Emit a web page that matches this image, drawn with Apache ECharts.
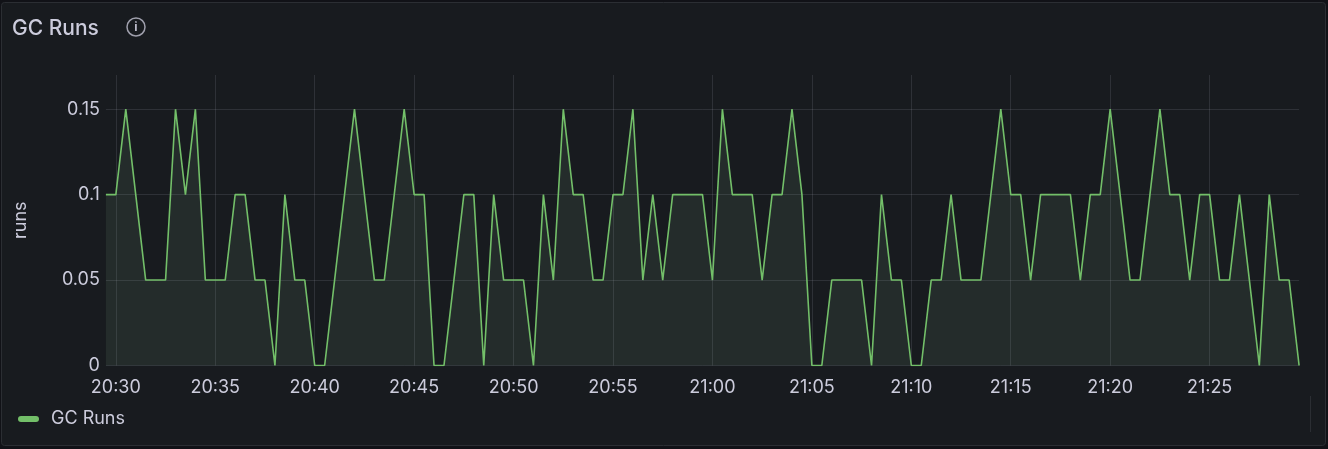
<!DOCTYPE html>
<html>
<head>
<meta charset="utf-8">
<style>
html,body{margin:0;padding:0;background:#111217;width:1328px;height:449px;overflow:hidden}
#c{position:absolute;left:0;top:0;width:1328px;height:449px}
</style>
<script src="https://cdn.jsdelivr.net/npm/echarts@6/dist/echarts.min.js"></script>
</head>
<body>
<div id="c"></div>
<script>
const seriesName = "GC Runs";
const yAxisName = "runs";
const startHour = 20, startMinute = 29, startSecond = 30, stepSeconds = 30;
const tickLabels = ["20:30","20:35","20:40","20:45","20:50","20:55","21:00","21:05","21:10","21:15","21:20","21:25"];
const gcRuns = [
  0.1,0.1,0.15,0.1,0.05,0.05,0.05,0.15,0.1,0.15,
  0.05,0.05,0.05,0.1,0.1,0.05,0.05,0,0.1,0.05,
  0.05,0,0,0.05,0.1,0.15,0.1,0.05,0.05,0.1,
  0.15,0.1,0.1,0,0,0.05,0.1,0.1,0,0.1,
  0.05,0.05,0.05,0,0.1,0.05,0.15,0.1,0.1,0.05,
  0.05,0.1,0.1,0.15,0.05,0.1,0.05,0.1,0.1,0.1,
  0.1,0.05,0.15,0.1,0.1,0.1,0.05,0.1,0.1,0.15,
  0.1,0,0,0.05,0.05,0.05,0.05,0,0.1,0.05,
  0.05,0,0,0.05,0.05,0.1,0.05,0.05,0.05,0.1,
  0.15,0.1,0.1,0.05,0.1,0.1,0.1,0.1,0.05,0.1,
  0.1,0.15,0.1,0.05,0.05,0.1,0.15,0.1,0.1,0.05,
  0.1,0.1,0.05,0.05,0.1,0.05,0,0.1,0.05,0.05,
  0
];
const categories = gcRuns.map((_, i) => {
  const s = startHour * 3600 + startMinute * 60 + startSecond + i * stepSeconds;
  const h = Math.floor(s / 3600), m = Math.floor(s / 60) % 60, sec = s % 60;
  return String(h).padStart(2, "0") + ":" + String(m).padStart(2, "0") + (sec ? ":" + sec : "");
});
const isTick = (idx, val) => tickLabels.includes(val);

const FONT = "Inter";
const TEXT = "#ccccdc";
const chart = echarts.init(document.getElementById("c"), null, {renderer: "canvas"});
chart.setOption({
  animation: false,
  backgroundColor: "transparent",
  title: {
    text: "GC Runs", left: 12, top: 18, padding: 0,
    textStyle: {color: TEXT, fontFamily: FONT, fontSize: 21, fontWeight: 500}
  },
  grid: {left: 105.9, right: 28.9, top: 75, bottom: 83.5, containLabel: false},
  legend: {
    left: 18, top: 410, padding: 0, itemWidth: 21, itemHeight: 6, itemGap: 8,
    icon: "path://M3,0H18A3,3 0 0 1 18,6H3A3,3 0 0 1 3,0Z",
    data: [seriesName],
    textStyle: {color: TEXT, fontFamily: FONT, fontSize: 18, padding: [0, 0, 0, 7]}
  },
  xAxis: {
    type: "category", data: categories, boundaryGap: false,
    axisLine: {show: false}, axisTick: {show: false},
    axisLabel: {color: TEXT, fontFamily: FONT, fontSize: 18, margin: 13, interval: isTick, hideOverlap: false},
    splitLine: {show: true, interval: isTick, lineStyle: {color: "rgba(204,204,220,0.13)", width: 1}}
  },
  yAxis: {
    type: "value", min: 0, max: 0.17, interval: 0.05,
    name: yAxisName, nameLocation: "middle", nameGap: 76, nameRotate: 90,
    nameTextStyle: {color: TEXT, fontFamily: FONT, fontSize: 18},
    axisLine: {show: false}, axisTick: {show: false},
    axisLabel: {color: TEXT, fontFamily: FONT, fontSize: 18, margin: 6, showMaxLabel: false,
      formatter: v => String(+v.toFixed(2))},
    splitLine: {show: true, showMaxLine: false, lineStyle: {color: "rgba(204,204,220,0.13)", width: 1}}
  },
  graphic: [
    {type: "rect", z: -10, silent: true, shape: {x: 1.5, y: 2.5, width: 1324, height: 443, r: 3},
      style: {fill: "#181b1f", stroke: "#2b2e33", lineWidth: 1}},
    {type: "circle", shape: {cx: 136, cy: 27, r: 9}, style: {fill: "none", stroke: "#ccccdc", lineWidth: 1.5, opacity: 0.75}},
    {type: "text", style: {x: 136, y: 27.5, text: "i", fill: "#ccccdc", opacity: 0.9, font: "700 12px Inter", align: "center", verticalAlign: "middle"}},
    {type: "line", shape: {x1: 1310.5, y1: 396, x2: 1310.5, y2: 432}, style: {stroke: "#2b2e33", lineWidth: 1}}
  ],
  series: [{
    name: seriesName, type: "line", data: gcRuns, showSymbol: false, smooth: false,
    lineStyle: {color: "#73bf69", width: 1.6},
    itemStyle: {color: "#73bf69"},
    areaStyle: {color: "#8fc29a", opacity: 0.1}
  }]
});
</script>
</body>
</html>
